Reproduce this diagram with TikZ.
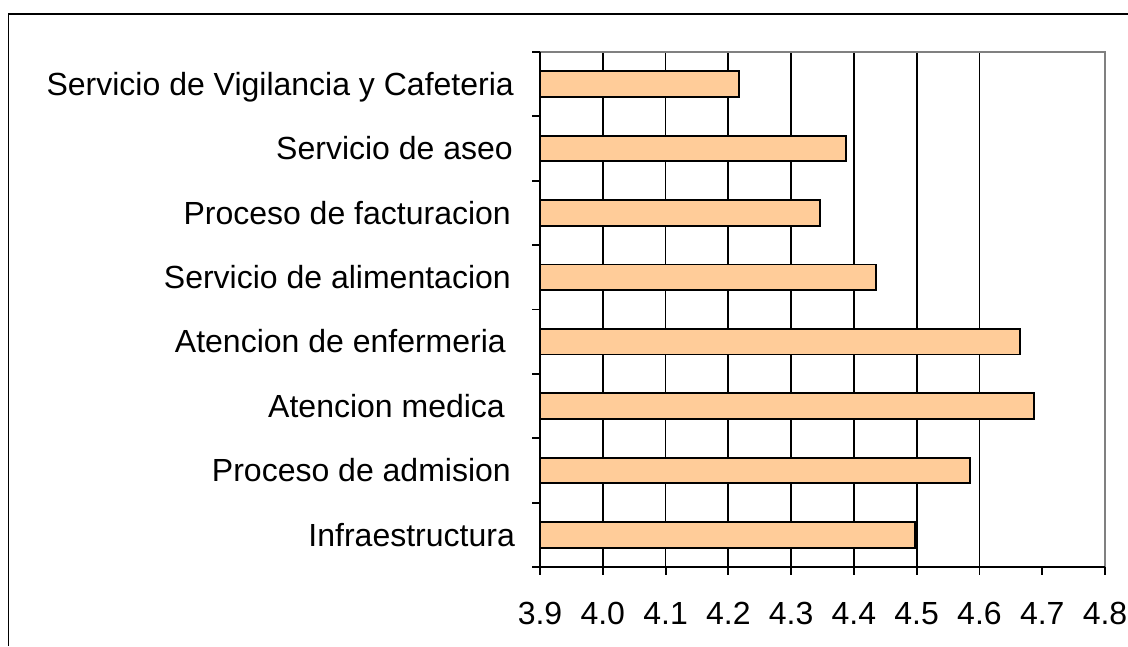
\documentclass[tikz,border=0pt]{standalone}
\usepackage{fontspec}
\setmainfont{Liberation Sans}
\definecolor{barfill}{HTML}{FFCC99}
\definecolor{framegray}{HTML}{808080}
\begin{document}
\begin{tikzpicture}[x=1pt,y=-1pt,
  barbox/.style={draw=black,line width=1.9pt,fill=barfill},
  gridline/.style={draw=black,line width=1.8pt},
  axisline/.style={draw=black,line width=1.9pt},
  frameline/.style={draw=framegray,line width=1.9pt},
  catlabel/.style={anchor=base east,inner sep=0pt,font=\fontsize{32}{36}\selectfont},
  ticklabel/.style={anchor=base,inner sep=0pt,font=\fontsize{32}{36}\selectfont}]
\useasboundingbox (0,0) rectangle (1128,646);
% outer frame
\draw[line width=1.9pt] (8.5,646) -- (8.5,14) -- (1128,14);
% grid lines
\foreach \k in {1,...,7}{
  \pgfmathsetmacro{\gx}{540+62.78*\k}
  \draw[gridline] (\gx,52) -- (\gx,575);
}
% frame of plot area
\draw[frameline] (540,52) -- (1105,52) -- (1105,567);
\draw[axisline] (1105,567) -- (1105,575);
% bars and labels
\foreach \i/\v/\t/\xe in {0/4.217/Servicio de Vigilancia y Cafeteria/514,
                          1/4.388/Servicio de aseo/513,
                          2/4.346/Proceso de facturacion/511,
                          3/4.435/Servicio de alimentacion/511,
                          4/4.664/Atencion de enfermeria/506,
                          5/4.687/Atencion medica/505,
                          6/4.585/Proceso de admision/511,
                          7/4.498/Infraestructura/515}{
  \pgfmathsetmacro{\cy}{52+64.375*(\i+0.5)}
  \pgfmathsetmacro{\bx}{540+(\v-3.9)*627.8}
  \draw[barbox] (540,\cy-12.8) rectangle (\bx,\cy+12.8);
  \node[catlabel] (l\i) at (\xe,\cy+11.3) {\t};
}
% axes
\draw[axisline] (540,52) -- (540,567) -- (1105,567);
\foreach \k in {0,...,8}{
  \pgfmathsetmacro{\ty}{52+64.375*\k}
  \draw[axisline] (532,\ty) -- (540,\ty);
}
\foreach \k/\lab in {0/3.9,1/4.0,2/4.1,3/4.2,4/4.3,5/4.4,6/4.5,7/4.6,8/4.7,9/4.8}{
  \pgfmathsetmacro{\tx}{540+62.78*\k}
  \draw[axisline] (\tx,567) -- (\tx,575);
  \node[ticklabel] (t\k) at (\tx,624) {\lab};
}
\end{tikzpicture}
\end{document}
